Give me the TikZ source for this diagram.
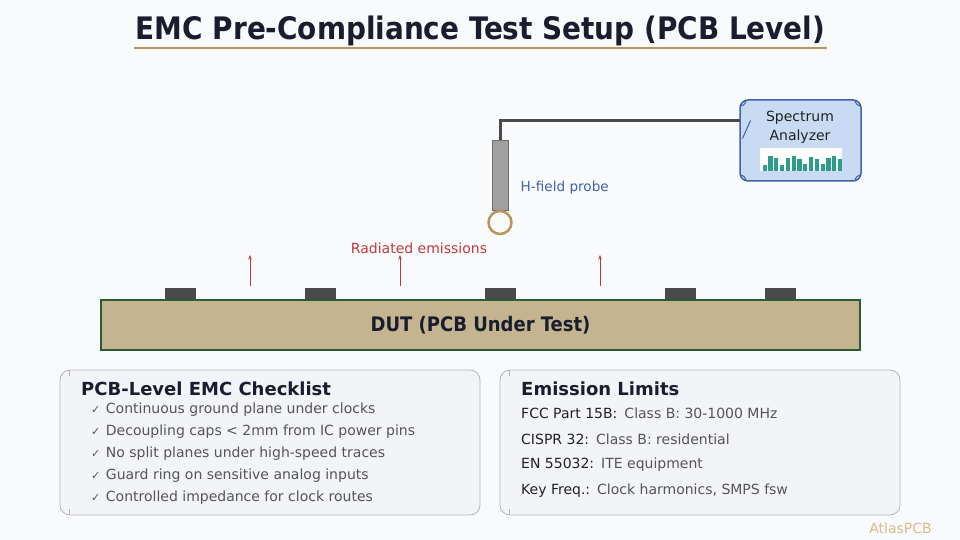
\documentclass[tikz,border=0pt]{standalone}
\usepackage{fontspec}
\setmainfont{DejaVu Sans}
\newfontfamily\condfont{DejaVu Sans Condensed}
\usetikzlibrary{arrows.meta}
\definecolor{bgc}{HTML}{F8FAFC}
\definecolor{titlec}{HTML}{1A1D2E}
\definecolor{goldc}{HTML}{B8965A}
\definecolor{cablec}{HTML}{4A4A4A}
\definecolor{probec}{HTML}{A0A0A0}
\definecolor{saf}{HTML}{C9DBF3}
\definecolor{sab}{HTML}{3D63A8}
\definecolor{barc}{HTML}{2E9C8A}
\definecolor{redc}{HTML}{C0393B}
\definecolor{pcbf}{HTML}{C4B48F}
\definecolor{pcbb}{HTML}{2A5C36}
\definecolor{boxf}{HTML}{F3F4F7}
\definecolor{boxb}{HTML}{B5B5B8}
\definecolor{txtg}{HTML}{555555}
\definecolor{txtd}{HTML}{222222}
\definecolor{atlasc}{HTML}{D6BC8E}
\tikzset{
  chip/.style={fill=cablec,draw=none},
  emis/.style={draw=redc,line width=0.8pt,-{Stealth[length=4.5pt,width=3.5pt]}},
  infobox/.style={draw=boxb,fill=boxf,line width=0.8pt,rounded corners=10pt},
  boxtitle/.style={anchor=west,font=\fontsize{18}{21}\selectfont\bfseries,text=titlec,inner sep=0pt},
  item/.style={anchor=west,font=\fontsize{14}{16}\selectfont,text=txtg,inner sep=0pt},
  bar/.style={fill=barc,draw=none},
  cornermark/.style={draw=sab,line width=1pt}
}
\begin{document}
\begin{tikzpicture}[x=1pt,y=-1pt]
\useasboundingbox (0,0) rectangle (960,540);
\fill[bgc] (0,0) rectangle (960,540);
% title
\node[font=\condfont\bfseries\fontsize{31}{34}\selectfont,text=titlec,inner sep=0pt] (title) at (480.5,31) {EMC Pre-Compliance Test Setup (PCB Level)};
\draw[goldc,line width=2pt] (134,48) -- (827,48);
% spectrum analyzer
\node[draw=sab,fill=saf,line width=1.5pt,rounded corners=8pt,minimum width=121pt,minimum height=81pt,inner sep=0pt,outer sep=0pt] (sa) at (800.5,140.5) {};
\draw[cornermark] (sa.north west) ++(0,6) .. controls +(3.3,0) and +(0,3.3) .. ++(6,-6);
\draw[cornermark] (sa.north east) ++(-6,0) .. controls +(0,3.3) and +(-3.3,0) .. ++(6,6);
\draw[cornermark] (sa.south east) ++(0,-6) .. controls +(-3.3,0) and +(0,-3.3) .. ++(-6,6);
\draw[cornermark] (sa.south west) ++(6,0) .. controls +(0,-3.3) and +(3.3,0) .. ++(-6,-6);
\node[font=\fontsize{14}{19}\selectfont,text=txtd,align=center,inner sep=0pt] (satxt) at (800,127.5) {Spectrum\\Analyzer};
\fill[white] (760,148) rectangle (842,171);
\foreach \i/\h in {0/6,1/15,2/13,3/6,4/13,5/15,6/12,7/7,8/14,9/12,10/7,11/13,12/15,13/12}{
  \fill[bar] ({762.5+\i*5.8},171) rectangle ++(4.3,-\h);
}
\draw[sab,line width=1pt] (742.5,138.5) -- (750.5,120.5);
% probe
\node[draw=cablec!80,fill=probec,line width=0.8pt,minimum width=16pt,minimum height=70pt,inner sep=0pt] (probe) at (500,175) {};
\node[draw=goldc,line width=2.5pt,circle,minimum size=23pt,inner sep=0pt] (loop) at (500,222.5) {};
\coordinate (bend) at (500,121);
\draw[cablec,line width=3pt] (probe.north) -- (bend) -- (sa.west |- bend);
\node[anchor=west,font=\fontsize{13.6}{16}\selectfont,text=sab,inner sep=0pt] (plabel) at (520.5,188) {H-field probe};
% emissions
\node[font=\fontsize{14}{16}\selectfont,text=redc,inner sep=0pt] (rad) at (419,248) {Radiated emissions};
\foreach \x/\n in {250/e1,400/e2,600/e3}{
  \coordinate (\n a) at (\x,286);
  \coordinate (\n b) at (\x,255);
  \draw[emis] (\n a) -- (\n b);
}
% PCB
\foreach \x in {165,305,485,665,765}{
  \fill[chip] (\x,288) rectangle ++(31,12);
}
\node[draw=pcbb,fill=pcbf,line width=2pt,minimum width=759pt,minimum height=50pt,inner sep=0pt,font=\condfont\bfseries\fontsize{20}{22}\selectfont,text=titlec] (dut) at (480.5,325) {DUT (PCB Under Test)};
% checklist
\node[infobox,minimum width=420pt,minimum height=145pt,inner sep=0pt] (chk) at (270,442.5) {};
\draw[boxb,line width=0.8pt] (69.5,370) -- (69.5,376) (69.5,509) -- (69.5,515);
\node[boxtitle] (chkt) at (81,389) {PCB-Level EMC Checklist};
\foreach \y/\t in {410/Continuous ground plane under clocks,432/Decoupling caps < 2mm from IC power pins,454/No split planes under high-speed traces,476/Guard ring on sensitive analog inputs,498/Controlled impedance for clock routes}{
  \node[item] at (91,\y) {\fontsize{11}{14}\selectfont✓\hspace{5.5pt}\fontsize{14}{16}\selectfont\t};
}
% emission limits
\node[infobox,minimum width=400pt,minimum height=145pt,inner sep=0pt] (lim) at (700,442.5) {};
\draw[boxb,line width=0.8pt] (509.5,370) -- (509.5,376) (509.5,509) -- (509.5,515);
\node[boxtitle] (limt) at (521,389) {Emission Limits};
\foreach \y/\a/\b in {413/FCC Part 15B:/Class B: 30-1000 MHz,439/CISPR 32:/Class B: residential,465/EN 55032:/ITE equipment,491/Key Freq.:/{Clock harmonics, SMPS fsw}}{
  \node[item,text=txtd] at (521,\y) {\a\hspace{7pt}\textcolor{txtg}{\b}};
}
\node[font=\fontsize{14}{16}\selectfont,text=atlasc,inner sep=0pt] (atlas) at (900.5,528) {AtlasPCB};
\end{tikzpicture}
\end{document}
